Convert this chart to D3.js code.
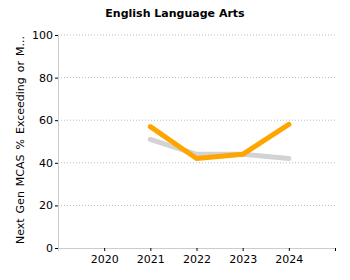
<!DOCTYPE html>
<html>
<head>
<meta charset="utf-8">
<script src="https://cdn.jsdelivr.net/npm/d3@7"></script>
<style>
body { margin: 0; background: #fff; }
text { font-family: "DejaVu Sans", Verdana, sans-serif; }
</style>
</head>
<body>
<svg id="chart" width="350" height="280"></svg>
<script>
var years = [2021, 2022, 2023, 2024];
var districtVals = [57, 42, 44, 58];
var stateVals = [51, 44, 44, 42];
var xTicks = [2020, 2021, 2022, 2023, 2024, 2025];
var yTicks = [0, 20, 40, 60, 80, 100];

var svg = d3.select("#chart");
var plotLeft = 58, plotRight = 335, plotTop = 35, plotBottom = 248;

var x = d3.scaleLinear().domain([2019, 2025]).range([plotLeft, plotRight]);
var y = d3.scaleLinear().domain([0, 100]).range([plotBottom, plotTop]);

// grid
svg.append("g")
	.selectAll("line")
	.data(yTicks.filter(function(d){ return d > 0; }))
	.enter()
	.append("line")
	.attr("x1", plotLeft).attr("x2", plotRight)
	.attr("y1", function(d){ return y(d); })
	.attr("y2", function(d){ return y(d); })
	.attr("stroke", "#bbb")
	.attr("stroke-dasharray", "1,2");

var yAxis = svg.append("g")
	.attr("transform", "translate(" + plotLeft + ",0)")
	.call(d3.axisLeft(y).tickValues(yTicks).tickSize(3).tickPadding(2));
var xAxis = svg.append("g")
	.attr("transform", "translate(0," + plotBottom + ")")
	.call(d3.axisBottom(x).tickValues(xTicks).tickSize(3).tickPadding(4)
		.tickFormat(function(d){ return d == 2025 ? "" : d; }));

[yAxis, xAxis].forEach(function(a){
	a.select(".domain").attr("stroke", "#ccc");
	a.selectAll(".tick line").attr("stroke", "#000");
	a.selectAll("text").attr("font-size", 11).attr("fill", "#000")
		.style("font-family", "'DejaVu Sans', Verdana, sans-serif");
});

var line = d3.line()
	.x(function(d){ return x(d[0]); })
	.y(function(d){ return y(d[1]); });

svg.append("path")
	.datum(years.map(function(yr, i){ return [yr, stateVals[i]]; }))
	.attr("d", line)
	.attr("fill", "none")
	.attr("stroke", "#d3d3d3")
	.attr("stroke-width", 5)
	.attr("stroke-linecap", "round")
	.attr("stroke-linejoin", "round");

svg.append("path")
	.datum(years.map(function(yr, i){ return [yr, districtVals[i]]; }))
	.attr("d", line)
	.attr("fill", "none")
	.attr("stroke", "orange")
	.attr("stroke-width", 5)
	.attr("stroke-linecap", "round")
	.attr("stroke-linejoin", "round");

svg.append("text")
	.attr("x", 175).attr("y", 17)
	.attr("text-anchor", "middle")
	.attr("font-size", 11)
	.attr("font-weight", "bold")
	.text("English Language Arts");

svg.append("text")
	.attr("transform", "translate(24,140) rotate(-90)")
	.attr("text-anchor", "middle")
	.attr("font-size", 11)
	.attr("word-spacing", 1.5)
	.text("Next Gen MCAS % Exceeding or M...");
</script>
</body>
</html>
